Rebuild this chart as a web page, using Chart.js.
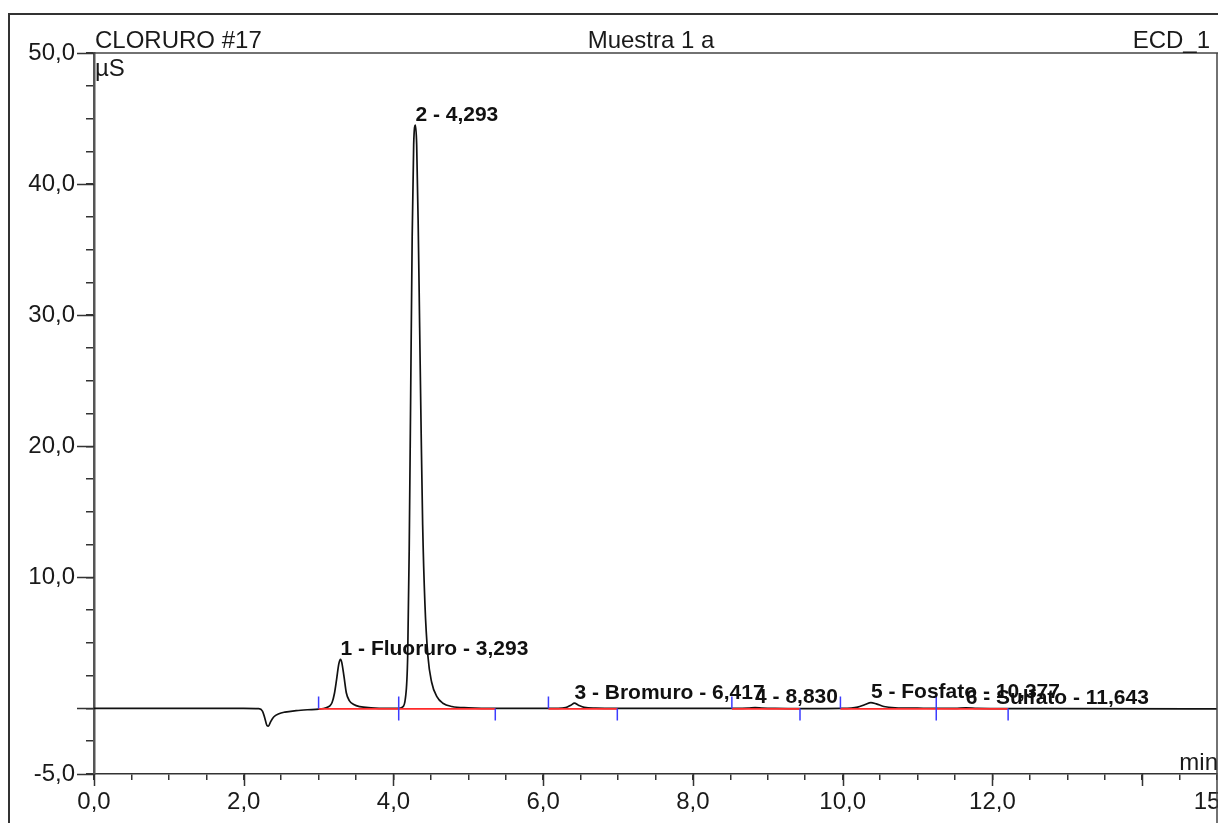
<!DOCTYPE html>
<html>
<head>
<meta charset="utf-8">
<script src="https://cdn.jsdelivr.net/npm/chart.js@4/dist/chart.umd.min.js"></script>
<style>
  body { margin: 0; background: #fff; }
  canvas { display: block; }
</style>
</head>
<body>
<canvas id="grafica" width="1218" height="823"></canvas>
<script>
// cromatograma leido a ojo del informe (min, µS)
const tiempo = [0.0, 1.0, 2.0, 2.2, 2.25, 2.28, 2.31, 2.33, 2.36, 2.40, 2.47, 2.55, 2.7, 2.85, 3.0,
  3.1, 3.15, 3.18, 3.21, 3.24, 3.27, 3.293, 3.31, 3.34, 3.37, 3.41, 3.47, 3.55, 3.7, 3.9, 4.07,
  4.12, 4.16, 4.19, 4.21, 4.23, 4.25, 4.27, 4.293, 4.31, 4.33, 4.35, 4.37, 4.39, 4.42, 4.46,
  4.51, 4.58, 4.66, 4.78, 5.0, 5.36, 6.2, 6.3, 6.37, 6.417, 6.47, 6.55, 6.7, 7.0, 8.6,
  8.75, 8.83, 8.92, 9.1, 9.43, 10.0, 10.2, 10.3, 10.377, 10.45, 10.55, 10.7, 11.0, 11.5, 11.643,
  11.8, 12.21, 13.0, 15.0];
const senal = [0, 0, 0, -0.02, -0.2, -0.7, -1.3, -1.35, -1.0, -0.65, -0.4, -0.28, -0.17, -0.1, -0.05,
  0.05, 0.2, 0.45, 1.1, 2.2, 3.4, 3.75, 3.5, 2.4, 1.2, 0.6, 0.3, 0.14, 0.05, 0, 0,
  0.1, 0.8, 4, 12, 24, 36, 43, 44.5, 43, 37, 29, 21, 14, 8, 4,
  2, 0.9, 0.4, 0.15, 0.05, 0, 0, 0.06, 0.25, 0.4, 0.25, 0.08, 0.02, 0, 0,
  0.03, 0.06, 0.03, 0, -0.02, 0, 0.1, 0.3, 0.45, 0.35, 0.15, 0.05, 0.02, 0, 0.05,
  0, -0.02, -0.02, -0.03];

// picos integrados
const picoNombre = ['1 - Fluoruro - 3,293', '2 - 4,293', '3 - Bromuro - 6,417', '4 - 8,830', '5 - Fosfato - 10,377', '6 - Sulfato - 11,643'];
const picoTiempo = [3.293, 4.293, 6.417, 8.830, 10.377, 11.643];
const picoAltura = [3.75, 44.5, 0.4, 0.06, 0.45, 0.05];
const inicioInt = [3.0, 4.07, 6.07, 8.52, 9.97, 11.25];
const finInt = [4.07, 5.36, 6.99, 9.43, 11.25, 12.21];

const etiquetasX = [0, 2, 4, 6, 8, 10, 12, 15];
const mayoresX = [0, 2, 4, 6, 8, 10, 12, 14];
const etiquetasY = [50, 40, 30, 20, 10, -5];
const mayoresY = [50, 40, 30, 20, 10, 0, -5];

const fuente = "Arial, 'Liberation Sans', sans-serif";
const coma = v => v.toFixed(1).replace('.', ',');

// linea base roja: un tramo por pico, separados con null
const baseRoja = [];
for (let i = 0; i < inicioInt.length; i++) {
  baseRoja.push({ x: inicioInt[i], y: -0.03 }, { x: finInt[i], y: -0.03 }, { x: finInt[i], y: null });
}

const decorado = {
  id: 'decorado',
  beforeDraw(chart) {
    const c = chart.ctx;
    c.save();
    c.fillStyle = '#fff';
    c.fillRect(0, 0, chart.width, chart.height);
    c.restore();
  },
  afterDraw(chart) {
    const c = chart.ctx;
    const a = chart.chartArea;
    const sx = chart.scales.x, sy = chart.scales.y;
    c.save();
    // marco exterior
    c.strokeStyle = '#333';
    c.lineWidth = 2;
    c.beginPath();
    c.moveTo(9, chart.height); c.lineTo(9, 14); c.lineTo(chart.width, 14);
    c.stroke();
    // borde superior y derecho del area
    c.lineWidth = 1.5;
    c.strokeStyle = '#444';
    c.beginPath();
    c.moveTo(a.left, a.top); c.lineTo(chart.width, a.top);
    c.moveTo(a.right, a.top); c.lineTo(a.right, chart.height);
    c.stroke();
    // marcas mayores largas
    c.strokeStyle = '#333';
    c.lineWidth = 1.5;
    c.beginPath();
    for (const v of mayoresY) {
      const y = Math.round(sy.getPixelForValue(v)) + 0.5;
      c.moveTo(a.left - 17, y); c.lineTo(a.left, y);
    }
    for (const v of mayoresX) {
      const x = Math.round(sx.getPixelForValue(v)) + 0.5;
      c.moveTo(x, a.bottom); c.lineTo(x, a.bottom + 12);
    }
    c.stroke();
    // marcas azules de integracion
    c.strokeStyle = '#3c3cff';
    c.lineWidth = 1.5;
    c.beginPath();
    const y0 = sy.getPixelForValue(0);
    for (const t of inicioInt) {
      const x = sx.getPixelForValue(t);
      c.moveTo(x, y0 - 12); c.lineTo(x, y0);
    }
    for (const t of finInt) {
      const x = sx.getPixelForValue(t);
      c.moveTo(x, y0); c.lineTo(x, y0 + 12);
    }
    c.stroke();
    // nombres de picos
    c.fillStyle = '#111';
    c.font = 'bold 21px ' + fuente;
    c.textBaseline = 'middle';
    c.textAlign = 'left';
    for (let i = 0; i < picoNombre.length; i++) {
      c.fillText(picoNombre[i], sx.getPixelForValue(picoTiempo[i]), sy.getPixelForValue(picoAltura[i]) - 10);
    }
    // cabecera y unidades
    c.font = '24px ' + fuente;
    c.fillStyle = '#1a1a1a';
    c.textBaseline = 'alphabetic';
    c.fillText('CLORURO #17', 95, 48);
    c.fillText('µS', 95, 76);
    c.textAlign = 'center';
    c.fillText('Muestra 1 a', 651, 48);
    c.textAlign = 'right';
    c.fillText('ECD_1', 1210, 48);
    c.fillText('min', chart.width, 770);
    c.restore();
  }
};

new Chart(document.getElementById('grafica'), {
  type: 'line',
  data: {
    datasets: [
      {
        label: 'ECD_1',
        data: tiempo.map((t, i) => ({ x: t, y: senal[i] })),
        borderColor: '#111',
        borderWidth: 1.7,
        pointRadius: 0,
        cubicInterpolationMode: 'monotone',
        fill: false,
        order: 2
      },
      {
        label: 'base',
        data: baseRoja,
        borderColor: '#ff2a2a',
        borderWidth: 1.8,
        pointRadius: 0,
        spanGaps: false,
        fill: false,
        order: 1
      }
    ]
  },
  options: {
    responsive: false,
    animation: false,
    devicePixelRatio: 1,
    layout: { autoPadding: false, padding: { left: 0, right: 1, top: 53, bottom: 0 } },
    plugins: { legend: { display: false }, tooltip: { enabled: false } },
    scales: {
      x: {
        type: 'linear',
        min: 0, max: 15,
        afterFit: s => { s.height = 49; s.paddingLeft = 0; s.paddingRight = 0; },
        border: { display: true, color: '#333', width: 1.5 },
        grid: { drawOnChartArea: false, drawTicks: true, tickLength: 6, color: '#333', lineWidth: 1.5 },
        ticks: {
          stepSize: 0.5,
          maxTicksLimit: 100,
          autoSkip: false,
          maxRotation: 0,
          minRotation: 0,
          padding: 8,
          color: '#1a1a1a',
          font: { family: fuente, size: 24 },
          callback: v => etiquetasX.includes(v) ? coma(v) : ''
        }
      },
      y: {
        type: 'linear',
        min: -5, max: 50,
        afterFit: s => { s.width = 94; s.paddingTop = 0; s.paddingBottom = 0; },
        border: { display: true, color: '#555', width: 2.5 },
        grid: { drawOnChartArea: false, drawTicks: true, tickLength: 8, color: '#333', lineWidth: 1.5 },
        ticks: {
          stepSize: 2.5,
          maxTicksLimit: 100,
          autoSkip: false,
          padding: 11,
          color: '#1a1a1a',
          font: { family: fuente, size: 24 },
          callback: v => etiquetasY.includes(v) ? coma(v) : ''
        }
      }
    }
  },
  plugins: [decorado]
});
</script>
</body>
</html>
